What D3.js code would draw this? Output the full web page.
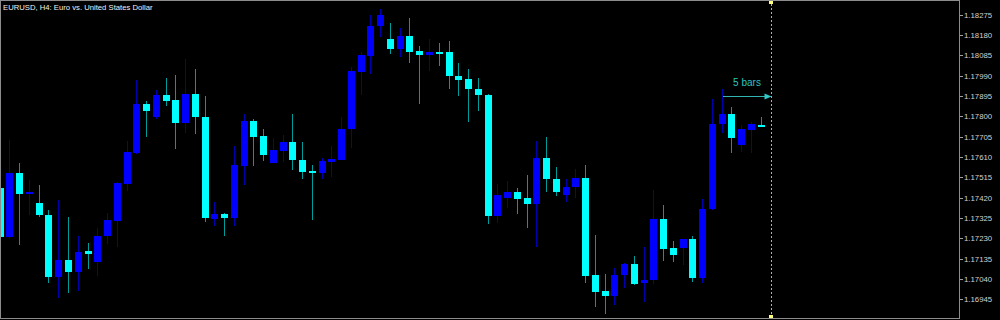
<!DOCTYPE html>
<html>
<head>
<meta charset="utf-8">
<script src="https://cdn.jsdelivr.net/npm/d3@7"></script>
<style>
  html, body { margin: 0; padding: 0; background: #000; }
  svg { display: block; }
</style>
</head>
<body>
<div id="chart"></div>
<script>
// Chart caption
const title = 'EURUSD, H4:  Euro vs. United States Dollar';

// H4 candles, oldest first
const opens = [
  1.17465, 1.17236, 1.17535, 1.17437, 1.17395, 1.17339, 1.17049, 1.17129, 1.17073, 1.17171,
  1.17119, 1.17241, 1.17311, 1.17484, 1.17629, 1.17858, 1.17797, 1.17900, 1.17876, 1.17769,
  1.17904, 1.17797, 1.17322, 1.17345, 1.17326, 1.17569, 1.17777, 1.17708, 1.17583, 1.17639,
  1.17679, 1.17596, 1.17543, 1.17537, 1.17587, 1.17597, 1.17739, 1.18009, 1.18082, 1.18224,
  1.18160, 1.18115, 1.18177, 1.18105, 1.18088, 1.18099, 1.18099, 1.17990, 1.17973, 1.17928,
  1.17901, 1.17336, 1.17420, 1.17445, 1.17417, 1.17392, 1.17605, 1.17509, 1.17431, 1.17468,
  1.17513, 1.17057, 1.16984, 1.16962, 1.17060, 1.17110, 1.17020, 1.17035, 1.17320, 1.17183,
  1.17183, 1.17227, 1.17043, 1.17366, 1.17763, 1.17811, 1.17667, 1.17737, 1.17761
];
const highs = [
  1.17474, 1.17689, 1.17582, 1.17502, 1.17479, 1.17362, 1.17409, 1.17330, 1.17241, 1.17208,
  1.17278, 1.17348, 1.17491, 1.17685, 1.17970, 1.17872, 1.17923, 1.17979, 1.17993, 1.18068,
  1.18021, 1.17895, 1.17400, 1.17348, 1.17661, 1.17811, 1.17786, 1.17741, 1.17697, 1.17713,
  1.17810, 1.17681, 1.17573, 1.17604, 1.17663, 1.17798, 1.18032, 1.18101, 1.18274, 1.18300,
  1.18238, 1.18211, 1.18261, 1.18130, 1.18160, 1.18144, 1.18152, 1.18048, 1.18021, 1.17978,
  1.17904, 1.17484, 1.17499, 1.17465, 1.17527, 1.17685, 1.17702, 1.17562, 1.17507, 1.17553,
  1.17573, 1.17246, 1.17063, 1.17093, 1.17115, 1.17147, 1.17191, 1.17456, 1.17386, 1.17219,
  1.17229, 1.17242, 1.17412, 1.17880, 1.17926, 1.17845, 1.17758, 1.17773, 1.17795
];
const lows = [
  1.17231, 1.17231, 1.17199, 1.17339, 1.17330, 1.17021, 1.16951, 1.16974, 1.16984, 1.17087,
  1.17054, 1.17203, 1.17189, 1.17451, 1.17624, 1.17703, 1.17788, 1.17848, 1.17647, 1.17722,
  1.17717, 1.17306, 1.17288, 1.17241, 1.17288, 1.17479, 1.17569, 1.17593, 1.17582, 1.17588,
  1.17549, 1.17507, 1.17316, 1.17507, 1.17515, 1.17596, 1.17653, 1.17900, 1.17998, 1.18172,
  1.18091, 1.18076, 1.18048, 1.17858, 1.18012, 1.18037, 1.17929, 1.17895, 1.17772, 1.17824,
  1.17297, 1.17300, 1.17372, 1.17342, 1.17277, 1.17188, 1.17446, 1.17429, 1.17398, 1.17420,
  1.17020, 1.16910, 1.16876, 1.16918, 1.16996, 1.17010, 1.16931, 1.17015, 1.17125, 1.17119,
  1.17104, 1.17027, 1.17023, 1.17362, 1.17721, 1.17630, 1.17633, 1.17630, 1.17751
];
const closes = [
  1.17236, 1.17535, 1.17437, 1.17446, 1.17339, 1.17049, 1.17129, 1.17073, 1.17166, 1.17157,
  1.17241, 1.17316, 1.17489, 1.17633, 1.17858, 1.17825, 1.17900, 1.17872, 1.17769, 1.17904,
  1.17797, 1.17325, 1.17344, 1.17326, 1.17571, 1.17777, 1.17705, 1.17618, 1.17643, 1.17679,
  1.17596, 1.17540, 1.17537, 1.17593, 1.17601, 1.17741, 1.18010, 1.18085, 1.18224, 1.18274,
  1.18116, 1.18175, 1.18102, 1.18085, 1.18101, 1.18093, 1.17989, 1.17971, 1.17926, 1.17901,
  1.17336, 1.17432, 1.17445, 1.17415, 1.17392, 1.17605, 1.17507, 1.17446, 1.17470, 1.17513,
  1.17055, 1.16981, 1.16962, 1.17057, 1.17110, 1.17017, 1.17035, 1.17320, 1.17181, 1.17153,
  1.17227, 1.17043, 1.17367, 1.17764, 1.17811, 1.17700, 1.17739, 1.17763, 1.17752
];

// Price scale labels on the right
const priceTicks = [
  1.18275, 1.18180, 1.18085, 1.17990, 1.17895, 1.17800, 1.17705, 1.17610,
  1.17515, 1.17420, 1.17325, 1.17230, 1.17135, 1.17040, 1.16945
];

// Chart shift marker and the measuring arrow
const shiftBar = 79;
const arrowFromBar = 74;
const arrowLabel = '5 bars';

// Dimensions
const width = 1000, height = 320;
const plotRight = 959, plotBottom = 318;

const svg = d3.select('#chart')
  .append('svg')
  .attr('width', width)
  .attr('height', height)
  .style('background', '#000')
  .style('font-family', '"Liberation Sans", Arial, sans-serif');

// Scales: bar index -> x, price -> y
const xScale = d3.scaleLinear().domain([0, shiftBar]).range([-0.3, 770.5]);
const yScale = d3.scaleLinear()
  .domain([priceTicks[priceTicks.length - 1], priceTicks[0]])
  .range([299.3, 14.7]);

const candles = d3.range(opens.length).map(i => ({
  i: i, o: opens[i], h: highs[i], l: lows[i], c: closes[i]
}));

const plot = svg.append('g').attr('shape-rendering', 'crispEdges');

// Wicks
plot.selectAll('line.wick')
  .data(candles)
  .enter().append('line')
  .attr('class', 'wick')
  .attr('x1', d => Math.round(xScale(d.i)) + 0.5)
  .attr('x2', d => Math.round(xScale(d.i)) + 0.5)
  .attr('y1', d => yScale(d.h))
  .attr('y2', d => yScale(d.l))
  .attr('stroke', d => d.c >= d.o ? '#0000b0' : '#009c9c')
  .attr('stroke-width', 1);

// Bodies
plot.selectAll('rect.body')
  .data(candles)
  .enter().append('rect')
  .attr('class', 'body')
  .attr('x', d => Math.round(xScale(d.i)) - 3)
  .attr('width', 7)
  .attr('y', d => Math.min(yScale(d.o), yScale(d.c)))
  .attr('height', d => Math.max(1.5, Math.abs(yScale(d.o) - yScale(d.c))))
  .attr('fill', d => d.c >= d.o ? '#0000ff' : '#00ffff');

// Shift line (dotted) with its end markers
const sx = Math.round(xScale(shiftBar)) + 0.5;
svg.append('line')
  .attr('x1', sx).attr('x2', sx)
  .attr('y1', 0).attr('y2', plotBottom)
  .attr('stroke', '#c8c800')
  .attr('stroke-dasharray', '2,2')
  .attr('shape-rendering', 'crispEdges');
[0, plotBottom - 3].forEach(yy => {
  svg.append('rect')
    .attr('x', sx - 2.5).attr('y', yy)
    .attr('width', 4).attr('height', 4)
    .attr('fill', '#ffff80');
});

// "5 bars" arrow
const ax1 = Math.round(xScale(arrowFromBar)) + 0.5;
const ay = 96.5;
svg.append('line')
  .attr('x1', ax1).attr('x2', sx - 5)
  .attr('y1', ay).attr('y2', ay)
  .attr('stroke', '#30b4b4')
  .attr('shape-rendering', 'crispEdges');
svg.append('path')
  .attr('d', `M${sx},${ay} L${sx - 7},${ay - 3} L${sx - 7},${ay + 3} Z`)
  .attr('fill', '#30c8c8');
svg.append('text')
  .attr('x', (ax1 + sx) / 2)
  .attr('y', 86)
  .attr('text-anchor', 'middle')
  .attr('font-size', '10px')
  .attr('fill', '#2cc4c4')
  .text(arrowLabel);

// Frame
svg.append('rect')
  .attr('x', 0.5).attr('y', 0.5)
  .attr('width', plotRight).attr('height', plotBottom)
  .attr('fill', 'none')
  .attr('stroke', '#8c8c8c')
  .attr('shape-rendering', 'crispEdges');

// Price axis
const yAxis = d3.axisRight(yScale)
  .tickValues(priceTicks)
  .tickSize(3)
  .tickPadding(1.5)
  .tickFormat(d3.format('.5f'));
const yNode = svg.append('g')
  .attr('transform', 'translate(' + (plotRight + 0.5) + ',0)')
  .call(yAxis);
yNode.select('path.domain').remove();
yNode.selectAll('line').attr('stroke', '#a0a0a0').attr('shape-rendering', 'crispEdges');
yNode.selectAll('text')
  .attr('fill', '#d0d0d0')
  .style('font-size', '7.8px')
  .style('font-family', '"Liberation Sans", Arial, sans-serif');

// Title
svg.append('text')
  .attr('x', 3)
  .attr('y', 9.5)
  .attr('font-size', '7.7px')
  .attr('fill', '#f0f0f0')
  .text(title);
</script>
</body>
</html>
